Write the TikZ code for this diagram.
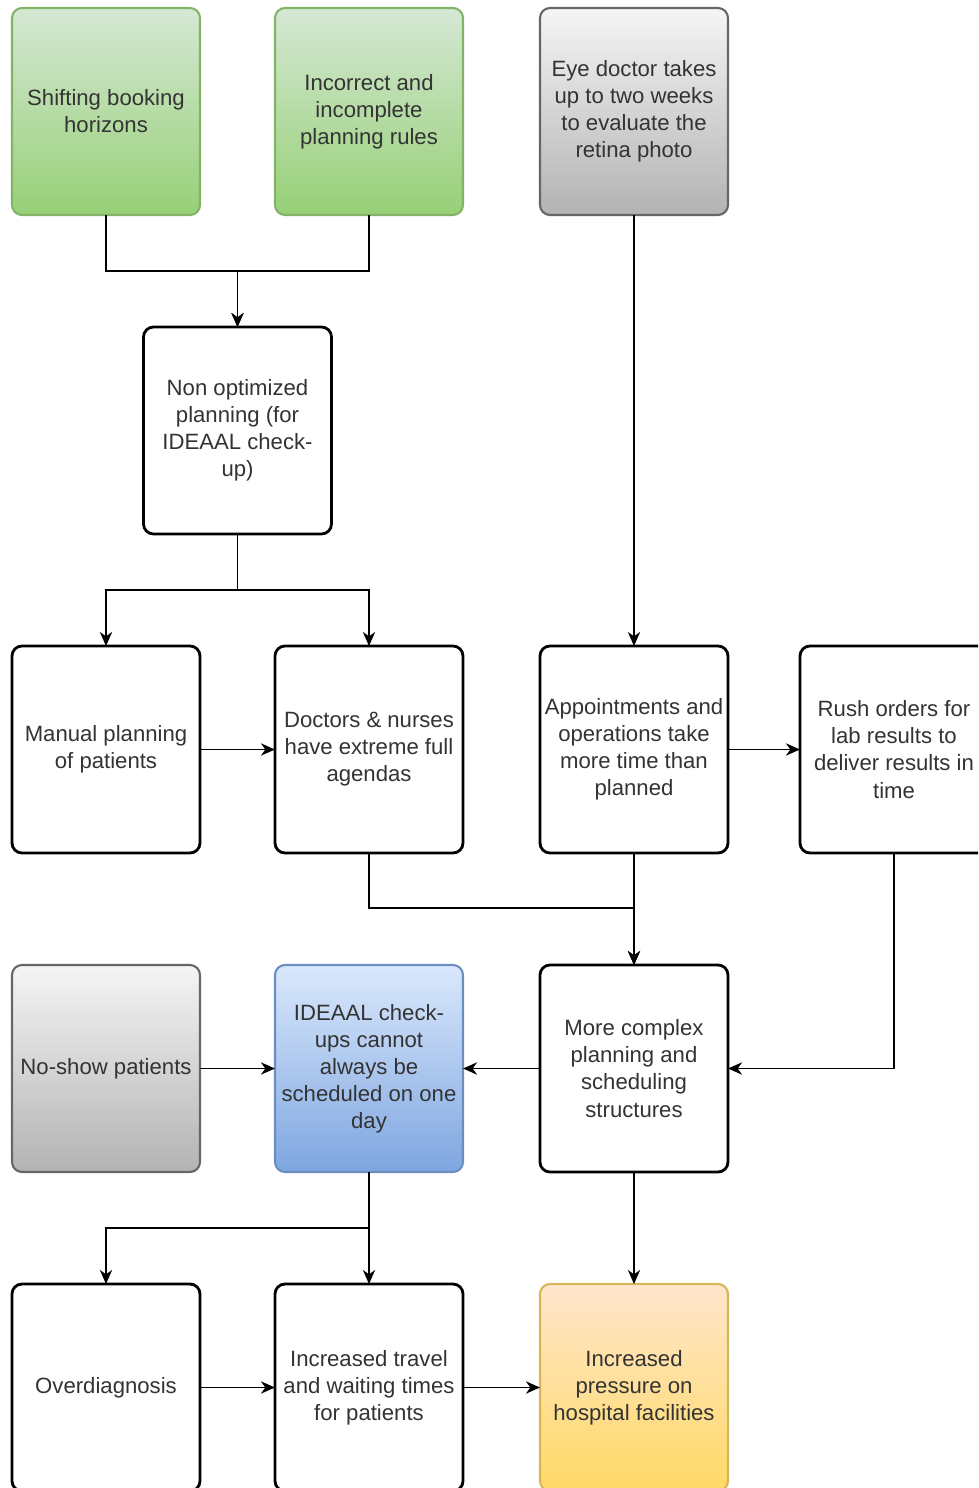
\documentclass[tikz,border=0pt]{standalone}
\usepackage{fontspec}
\setmainfont{Liberation Sans}
\usepackage{xcolor}
\usepackage{tikz}
\usetikzlibrary{positioning, arrows.meta}

\definecolor{greenTop}{HTML}{D5E8D4}
\definecolor{greenBot}{HTML}{97D077}
\definecolor{greenLine}{HTML}{82B366}
\definecolor{grayTop}{HTML}{F5F5F5}
\definecolor{grayBot}{HTML}{B3B3B3}
\definecolor{grayLine}{HTML}{666666}
\definecolor{blueTop}{HTML}{DAE8FC}
\definecolor{blueBot}{HTML}{7EA6E0}
\definecolor{blueLine}{HTML}{6C8EBF}
\definecolor{yellowTop}{HTML}{FFE6CC}
\definecolor{yellowBot}{HTML}{FFD966}
\definecolor{yellowLine}{HTML}{D6B656}
\definecolor{textGray}{HTML}{333333}

\tikzset{
    box/.style={draw=black, line width=1.6pt, rounded corners=0.2cm, fill=white,
        minimum width=3.76cm, minimum height=4.14cm, align=center, outer sep=0pt,
        inner xsep=0pt, text=textGray, font=\fontsize{12.6}{15.4}\selectfont},
    greenbox/.style={box, draw=greenLine, line width=1.2pt, top color=greenTop, bottom color=greenBot},
    graybox/.style={box, draw=grayLine, line width=1.2pt, top color=grayTop, bottom color=grayBot},
    bluebox/.style={box, draw=blueLine, line width=1.2pt, top color=blueTop, bottom color=blueBot},
    yellowbox/.style={box, draw=yellowLine, line width=1.2pt, top color=yellowTop, bottom color=yellowBot},
    link/.style={->, line width=0.8pt, draw=black}
}

\begin{document}
\begin{tikzpicture}[>={Stealth[length=8pt,width=7pt,inset=2.5pt]}]
        \useasboundingbox (0,0) rectangle (19.56,-29.76);
        \clip (0,0) rectangle (19.56,-29.76);

        % Nodes
        \node (shift) [greenbox] at (2.12,-2.23) {Shifting booking\\horizons};
        \node (rules) [greenbox, right=1.5cm of shift] {Incorrect and\\incomplete\\planning rules};
        \node (eye) [graybox, right=1.54cm of rules] {Eye doctor takes\\up to two weeks\\to evaluate the\\retina photo};

        \node (plan) [box, below=2.24cm of shift, xshift=2.63cm] {Non optimized\\planning (for\\IDEAAL check-\\up)};

        \node (manual) [box, below=2.24cm of plan, xshift=-2.63cm] {Manual planning\\of patients};
        \node (agenda) [box, right=1.5cm of manual] {Doctors \& nurses\\have extreme full\\agendas};
        \node (appt) [box, right=1.54cm of agenda] {Appointments and\\operations take\\more time than\\planned};
        \node (rush) [box, right=1.44cm of appt] {Rush orders for\\lab results to\\deliver results in\\time};

        \node (noshow) [graybox, below=2.24cm of manual] {No-show patients};
        \node (ideaal) [bluebox, right=1.5cm of noshow] {IDEAAL check-\\ups cannot\\always be\\scheduled on one\\day};
        \node (complex) [box, right=1.54cm of ideaal] {More complex\\planning and\\scheduling\\structures};

        \node (overdiag) [box, below=2.24cm of noshow] {Overdiagnosis};
        \node (travel) [box, right=1.5cm of overdiag] {Increased travel\\and waiting times\\for patients};
        \node (pressure) [yellowbox, right=1.54cm of travel] {Increased\\pressure on\\hospital facilities};

        % Arrows
        \draw[link] (shift.south) -- ++(0,-1.12) -| (plan);
        \draw[link] (rules.south) -- ++(0,-1.12) -| (plan);
        \draw[link] (plan.south) -- ++(0,-1.12) -| (manual);
        \draw[link] (plan.south) -- ++(0,-1.12) -| (agenda);
        \draw[link] (eye) -- (appt);
        \draw[link] (manual) -- (agenda);
        \draw[link] (appt) -- (rush);
        \draw[link] (agenda.south) -- ++(0,-1.1) -| (complex);
        \draw[link] (appt) -- (complex);
        \draw[link] (rush.south) |- (complex.east);
        \draw[link] (noshow) -- (ideaal);
        \draw[link] (complex) -- (ideaal);
        \draw[link] (ideaal.south) -- ++(0,-1.12) -| (overdiag);
        \draw[link] (ideaal) -- (travel);
        \draw[link] (complex) -- (pressure);
        \draw[link] (overdiag) -- (travel);
        \draw[link] (travel) -- (pressure);

    \end{tikzpicture}
\end{document}
